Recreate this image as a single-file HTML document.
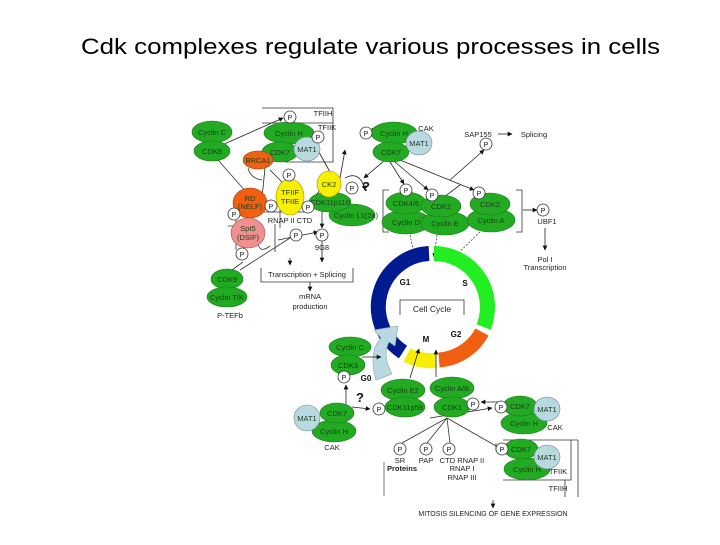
<!DOCTYPE html>
<html><head><meta charset="utf-8"><style>
html,body{margin:0;padding:0;background:#fff}
svg text{font-family:"Liberation Sans",Arial,sans-serif}
.g{fill:#22aa22;stroke:#1b7a1b;stroke-width:0.6}
.t{font-size:7.5px;fill:#1a3d1a;text-anchor:middle}
.s{font-size:7.5px;fill:#222;text-anchor:middle}
.p{fill:#fff;stroke:#333;stroke-width:0.8}
.l{stroke:#333;stroke-width:0.8;fill:none}
.a{stroke:#222;stroke-width:0.8;fill:none;marker-end:url(#ar)}
.d{stroke:#333;stroke-width:0.7;fill:none;stroke-dasharray:2 1.5;marker-end:url(#ar)}
</style></head><body>
<svg width="720" height="540" viewBox="0 0 720 540" xmlns="http://www.w3.org/2000/svg">
<defs><marker id="ar" viewBox="0 0 10 10" refX="9" refY="5" markerWidth="6" markerHeight="6" orient="auto"><path d="M0,0L10,5L0,10z" fill="#111"/></marker></defs>
<text x="81" y="54" textLength="579" lengthAdjust="spacingAndGlyphs" style="font-size:22px" fill="#000">Cdk complexes regulate various processes in cells</text>

<!-- TFIIH top box -->
<path class="l" d="M262,108H333V162H285M262,123H333"/>
<text x="323" y="116" class="s">TFIIH</text>
<text x="327" y="130" class="s">TFIIK</text>

<path class="a" d="M222,145L283,118"/>
<path class="l" d="M218,160L262,210"/>
<path class="a" d="M270,170L290,190"/>
<path class="l" d="M248,168Q250,178 262,180"/>
<path class="a" d="M265,168L262,198"/>
<path class="a" d="M340,178L345,150"/>
<path class="a" d="M330,172L315,145"/>
<path class="a" d="M330,178L312,200"/>
<path class="a" d="M345,178Q360,170 365,190"/>
<path class="a" d="M322,210V228"/>
<path class="a" d="M322,240V262"/>
<path class="a" d="M278,240L318,232"/>
<path class="l" d="M248,212H305M280,210V228M236,220V250M228,226H243M275,224V252"/>
<path class="l" d="M258,240Q258,255 270,246"/>
<path class="l" d="M232,270L243,262M240,270L290,238"/>
<path class="l" d="M261,268V282H353V268"/>
<path class="a" d="M290,258V265"/>
<path class="a" d="M310,282V291"/>
<text x="307" y="277" class="s">Transcription + Splicing</text>
<text x="310" y="299" class="s">mRNA</text>
<text x="310" y="309" class="s">production</text>
<text x="322" y="250" class="s">9G8</text>
<text x="290" y="223" class="s">RNAP II CTD</text>

<ellipse class="g" cx="212" cy="132" rx="20" ry="11"/><text x="212" y="135" class="t">Cyclin C</text>
<ellipse class="g" cx="212" cy="151" rx="18" ry="10"/><text x="212" y="154" class="t">CDK8</text>
<ellipse class="g" cx="289" cy="133" rx="25" ry="11"/><text x="289" y="136" class="t">Cyclin H</text>
<ellipse class="g" cx="280" cy="152" rx="18" ry="10"/><text x="280" y="155" class="t">CDK7</text>
<ellipse cx="307" cy="149" rx="13" ry="12" fill="#b9d8e0" stroke="#6a8a90" stroke-width="0.6"/><text x="307" y="152" class="t">MAT1</text>
<ellipse cx="258" cy="160" rx="15" ry="9" fill="#f06010" stroke="#a04010" stroke-width="0.6"/><text x="258" y="163" class="t">BRCA1</text>
<ellipse cx="250" cy="203" rx="17" ry="15" fill="#f06010" stroke="#a04010" stroke-width="0.6"/><text x="250" y="201" class="t">RD</text><text x="250" y="209" class="t">(NELF)</text>
<ellipse cx="290" cy="197" rx="14" ry="18" fill="#f8f000" stroke="#a09000" stroke-width="0.6"/><text x="290" y="195" class="t">TFIIF</text><text x="290" y="204" class="t">TFIIE</text>
<ellipse class="g" cx="352" cy="215" rx="23" ry="11"/><text x="356" y="218" class="t">Cyclin L1(2a)</text>
<ellipse class="g" cx="330" cy="202" rx="21" ry="10"/><text x="330" y="205" class="t">CDK11p110</text>
<ellipse cx="329" cy="184" rx="12" ry="13" fill="#f8f000" stroke="#a09000" stroke-width="0.6"/><text x="329" y="187" class="t">CK2</text>
<ellipse cx="248" cy="233" rx="17" ry="15" fill="#f09090" stroke="#a05050" stroke-width="0.6"/><text x="248" y="231" class="t">Spt5</text><text x="248" y="240" class="t">(DSIF)</text>
<ellipse class="g" cx="227" cy="279" rx="16" ry="10"/><text x="227" y="282" class="t">CDK9</text>
<ellipse class="g" cx="227" cy="297" rx="20" ry="10"/><text x="227" y="300" class="t">Cyclin T/K</text>
<text x="230" y="318" class="s">P-TEFb</text>
<text x="362" y="191" style="font-size:13px;font-weight:bold" fill="#111">?</text>

<path class="a" d="M378,140L372,128"/>
<path class="a" d="M385,160L364,178"/>
<path class="a" d="M390,162L404,184"/>
<path class="a" d="M395,162L428,190"/>
<path class="a" d="M400,160L474,190"/>
<path class="l" d="M440,200L460,185"/>
<path class="a" d="M450,180L484,150"/>
<path class="a" d="M498,134H512"/>
<path class="l" d="M389,190H383V232H389M516,190H522V232H516"/>
<path class="a" d="M523,210H537"/>
<path class="a" d="M545,228V250"/>
<path class="d" d="M410,235L415,258"/>
<path class="d" d="M437,235L434,257"/>
<path class="d" d="M480,232L448,263"/>
<ellipse class="g" cx="394" cy="133" rx="23" ry="11"/><text x="394" y="136" class="t">Cyclin H</text>
<ellipse class="g" cx="391" cy="152" rx="18" ry="10"/><text x="391" y="155" class="t">CDK7</text>
<ellipse cx="419" cy="143" rx="13" ry="12" fill="#b9d8e0" stroke="#6a8a90" stroke-width="0.6"/><text x="419" y="146" class="t">MAT1</text>
<text x="426" y="131" class="s">CAK</text>
<text x="478" y="137" class="s">SAP155</text><text x="534" y="137" class="s">Splicing</text>
<ellipse class="g" cx="406" cy="222" rx="24" ry="12"/><text x="406" y="225" class="t">Cyclin D</text>
<ellipse class="g" cx="406" cy="203" rx="20" ry="11"/><text x="406" y="206" class="t">CDK4/6</text>
<ellipse class="g" cx="445" cy="223" rx="24" ry="12"/><text x="445" y="226" class="t">Cyclin E</text>
<ellipse class="g" cx="441" cy="206" rx="20" ry="11"/><text x="441" y="209" class="t">CDK2</text>
<ellipse class="g" cx="491" cy="220" rx="24" ry="12"/><text x="491" y="223" class="t">Cyclin A</text>
<ellipse class="g" cx="490" cy="204" rx="20" ry="11"/><text x="490" y="207" class="t">CDK2</text>
<text x="547" y="224" class="s">UBF1</text>
<text x="545" y="262" class="s">Pol I</text><text x="545" y="270" class="s">Transcription</text>

<g fill="none" stroke-width="15">
<path d="M434,253.5 A53.5,53.5 0 0 1 483.6,327" stroke="#22ee22"/>
<path d="M482,332 A53.5,53.5 0 0 1 439,360" stroke="#f06010"/>
<path d="M436,360.5 A53.5,53.5 0 0 1 407,355" stroke="#f8ee00"/>
<path d="M403,352 A53.5,53.5 0 0 1 429,253.5" stroke="#001a8f"/>
</g>
<path d="M376,380 Q368,352 381,338 L374,330 L398,326 L395,346 L389,342 Q382,356 392,374 Z" fill="#b9d8e0" stroke="#8aa8b0" stroke-width="0.6"/>
<path class="l" d="M400,315V300H464V315"/>
<text x="432" y="312" class="s" style="font-size:8.5px">Cell Cycle</text>
<text x="405" y="285" style="font-size:8px;font-weight:bold" fill="#111" text-anchor="middle">G1</text>
<text x="465" y="286" style="font-size:8px;font-weight:bold" fill="#111" text-anchor="middle">S</text>
<text x="456" y="337" style="font-size:8px;font-weight:bold" fill="#111" text-anchor="middle">G2</text>
<text x="426" y="342" style="font-size:8px;font-weight:bold" fill="#111" text-anchor="middle">M</text>
<text x="366" y="381" style="font-size:8px;font-weight:bold" fill="#111" text-anchor="middle">G0</text>
<path class="a" d="M410,378L419,349"/>
<path class="a" d="M436,377L436,350"/>

<path class="a" d="M362,357H381"/>
<path class="a" d="M346,405V385"/>
<path class="a" d="M352,407L370,409"/>
<path class="a" d="M510,402H481"/>
<path class="a" d="M430,418L492,408"/>
<path class="l" d="M447,418L402,443M447,418L427,443M447,418L450,443M447,418L496,446"/>
<path class="l" d="M496,443V451"/>
<path class="l" d="M503,440H571V480H503M565,480V497M578,440V497M571,440H578"/>
<path stroke="#aaa" stroke-width="1.5" d="M384,462V496"/>
<path class="a" d="M493,500V508"/>
<text x="356" y="402" style="font-size:13px;font-weight:bold" fill="#111">?</text>
<ellipse class="g" cx="350" cy="347" rx="21" ry="10"/><text x="350" y="350" class="t">Cyclin C</text>
<ellipse class="g" cx="348" cy="365" rx="17" ry="10"/><text x="348" y="368" class="t">CDK3</text>
<ellipse class="g" cx="403" cy="390" rx="22" ry="11"/><text x="403" y="393" class="t">Cyclin E2</text>
<ellipse class="g" cx="405" cy="407" rx="20" ry="10"/><text x="405" y="410" class="t">CDK11p58</text>
<ellipse class="g" cx="452" cy="388" rx="22" ry="11"/><text x="452" y="391" class="t">Cyclin A/B</text>
<ellipse class="g" cx="452" cy="407" rx="18" ry="10"/><text x="452" y="410" class="t">CDK1</text>
<ellipse class="g" cx="524" cy="423" rx="23" ry="11"/><text x="524" y="426" class="t">Cyclin H</text>
<ellipse class="g" cx="520" cy="406" rx="17" ry="10"/><text x="520" y="409" class="t">CDK7</text>
<ellipse cx="547" cy="409" rx="13" ry="12" fill="#b9d8e0" stroke="#6a8a90" stroke-width="0.6"/><text x="547" y="412" class="t">MAT1</text>
<text x="555" y="430" class="s">CAK</text>
<ellipse class="g" cx="334" cy="431" rx="22" ry="11"/><text x="334" y="434" class="t">Cyclin H</text>
<ellipse class="g" cx="337" cy="413" rx="17" ry="10"/><text x="337" y="416" class="t">CDK7</text>
<ellipse cx="307" cy="418" rx="13" ry="13" fill="#b9d8e0" stroke="#6a8a90" stroke-width="0.6"/><text x="307" y="421" class="t">MAT1</text>
<text x="332" y="450" class="s">CAK</text>
<ellipse class="g" cx="527" cy="469" rx="23" ry="11"/><text x="527" y="472" class="t">Cyclin H</text>
<ellipse class="g" cx="521" cy="449" rx="17" ry="10"/><text x="521" y="452" class="t">CDK7</text>
<ellipse cx="547" cy="457" rx="13" ry="12" fill="#b9d8e0" stroke="#6a8a90" stroke-width="0.6"/><text x="547" y="460" class="t">MAT1</text>
<text x="558" y="474" class="s">TFIIK</text>
<text x="558" y="491" class="s">TFIIH</text>
<text x="400" y="463" class="s">SR</text><text x="402" y="471" class="s" style="font-weight:bold">Proteins</text>
<text x="426" y="463" class="s">PAP</text>
<text x="462" y="463" class="s">CTD RNAP II</text><text x="462" y="471" class="s">RNAP I</text><text x="462" y="480" class="s">RNAP III</text>
<text x="493" y="516" class="s" style="font-size:7px">MITOSIS SILENCING OF GENE EXPRESSION</text>

<g>
<circle class="p" cx="290" cy="117" r="6"/><circle class="p" cx="318" cy="137" r="6"/>
<circle class="p" cx="289" cy="175" r="6"/><circle class="p" cx="271" cy="206" r="6"/>
<circle class="p" cx="308" cy="207" r="6"/><circle class="p" cx="234" cy="214" r="6"/>
<circle class="p" cx="296" cy="235" r="6"/><circle class="p" cx="242" cy="254" r="6"/>
<circle class="p" cx="352" cy="188" r="6"/><circle class="p" cx="322" cy="235" r="6"/>
<circle class="p" cx="366" cy="133" r="6"/><circle class="p" cx="486" cy="144" r="6"/>
<circle class="p" cx="406" cy="190" r="6"/><circle class="p" cx="432" cy="195" r="6"/>
<circle class="p" cx="479" cy="193" r="6"/><circle class="p" cx="543" cy="210" r="6"/>
<circle class="p" cx="344" cy="377" r="6"/><circle class="p" cx="379" cy="409" r="6"/>
<circle class="p" cx="473" cy="404" r="6"/><circle class="p" cx="501" cy="407" r="6"/>
<circle class="p" cx="502" cy="449" r="6"/><circle class="p" cx="400" cy="449" r="6"/>
<circle class="p" cx="426" cy="449" r="6"/><circle class="p" cx="449" cy="449" r="6"/>
</g>
<g style="font-size:7px" fill="#111" text-anchor="middle">
<text x="290" y="120">P</text><text x="318" y="140">P</text><text x="289" y="178">P</text><text x="271" y="209">P</text>
<text x="308" y="210">P</text><text x="234" y="217">P</text><text x="296" y="238">P</text><text x="242" y="257">P</text>
<text x="352" y="191">P</text><text x="322" y="238">P</text><text x="366" y="136">P</text><text x="486" y="147">P</text>
<text x="406" y="193">P</text><text x="432" y="198">P</text><text x="479" y="196">P</text><text x="543" y="213">P</text>
<text x="344" y="380">P</text><text x="379" y="412">P</text><text x="473" y="407">P</text><text x="501" y="410">P</text>
<text x="502" y="452">P</text><text x="400" y="452">P</text><text x="426" y="452">P</text><text x="449" y="452">P</text>
</g>
</svg>
</body></html>
